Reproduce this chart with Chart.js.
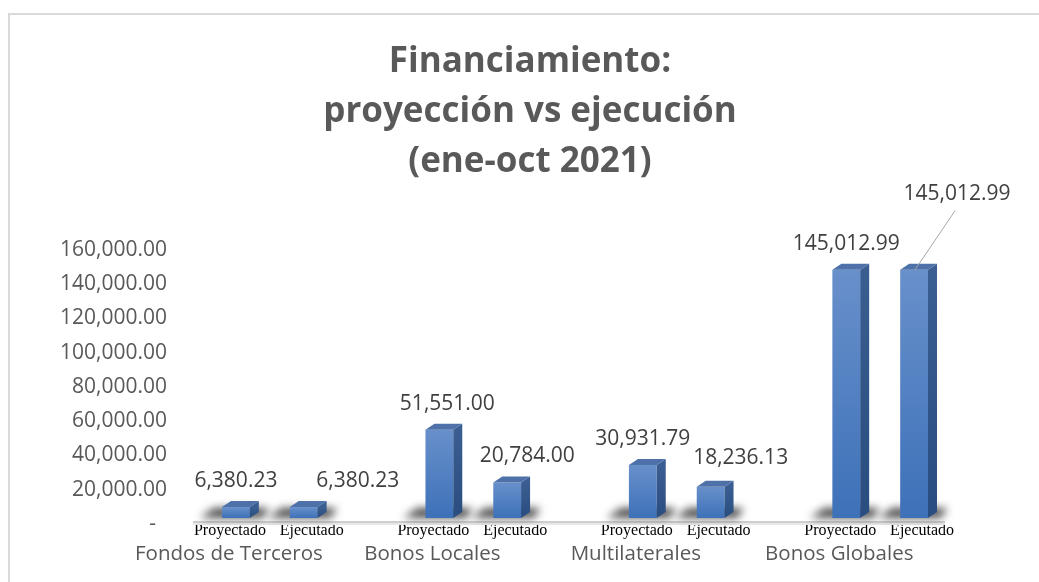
<!DOCTYPE html>
<html>
<head>
<meta charset="utf-8">
<script src="https://cdn.jsdelivr.net/npm/chart.js@4"></script>
<style>
  body { margin: 0; background: #fff; }
  #marco { position: absolute; left: 8px; top: 13px; width: 1200px; height: 800px;
           border-left: 2px solid #d9d9d9; border-top: 2px solid #d9d9d9; }
  #grafico { position: absolute; left: 0; top: 0; }
</style>
</head>
<body>
<div id="marco"></div>
<canvas id="grafico" width="1039" height="582"></canvas>
<script>
// datos del grafico
const categorias = ['Fondos de Terceros', 'Bonos Locales', 'Multilaterales', 'Bonos Globales'];
const series = ['Proyectado', 'Ejecutado'];
const proyectado = [6380.23, 51551.00, 30931.79, 145012.99];
const ejecutado = [6380.23, 20784.00, 18236.13, 145012.99];
const ticksY = [0, 20000, 40000, 60000, 80000, 100000, 120000, 140000, 160000];

// cada categoria ocupa 3 posiciones: Proyectado, Ejecutado y un hueco
const etiquetas = [];
const valores = [];
categorias.forEach((c, i) => {
    if (i > 0) { etiquetas.push(''); valores.push(null); }
    etiquetas.push(series[0]); valores.push(proyectado[i]);
    etiquetas.push(series[1]); valores.push(ejecutado[i]);
});

// desplazamiento de algunas etiquetas de datos (como las movio Excel)
const ajusteEtiquetas = {
    1: [54, 0], 4: [20, 0], 7: [30, -3], 10: [43, -50], 3: [8, 0]
};

function formato(v) {
    return v.toLocaleString('en-US', { minimumFractionDigits: 2, maximumFractionDigits: 2 });
}

const DX = 9, DY = 6;

const efecto3D = {
    id: 'efecto3D',
    beforeDatasetsDraw(chart) {
        const { ctx, chartArea } = chart;
        const meta = chart.getDatasetMeta(0);
        ctx.save();
        // piso
        ctx.fillStyle = '#cfcfcf';
        ctx.fillRect(chartArea.left - 9, chartArea.bottom + 3, 752, 2);
        ctx.fillStyle = '#e8e8e8';
        ctx.fillRect(chartArea.left - 9, chartArea.bottom + 5, 752, 2);
        // sombras
        ctx.filter = 'blur(4px)';
        ctx.fillStyle = 'rgba(30,30,30,0.8)';
        meta.data.forEach((bar, i) => {
            if (valores[i] == null) return;
            const izq = bar.x - bar.width / 2;
            const der = bar.x + bar.width / 2;
            ctx.beginPath();
            ctx.moveTo(izq - 22, bar.base);
            ctx.lineTo(izq - 8, bar.base - 10);
            ctx.lineTo(der + DX + 10, bar.base - 10);
            ctx.lineTo(der + DX + 4, bar.base);
            ctx.closePath();
            ctx.fill();
        });
        ctx.restore();
    },
    afterDatasetsDraw(chart) {
        const { ctx, scales } = chart;
        const meta = chart.getDatasetMeta(0);
        ctx.save();
        meta.data.forEach((bar, i) => {
            if (valores[i] == null) return;
            const izq = bar.x - bar.width / 2;
            const der = bar.x + bar.width / 2;
            // cara lateral
            const gl = ctx.createLinearGradient(0, bar.y, 0, bar.base);
            gl.addColorStop(0, '#3b5e92');
            gl.addColorStop(1, '#2a4d80');
            ctx.fillStyle = gl;
            ctx.beginPath();
            ctx.moveTo(der, bar.y);
            ctx.lineTo(der + DX, bar.y - DY);
            ctx.lineTo(der + DX, bar.base - DY);
            ctx.lineTo(der, bar.base);
            ctx.closePath();
            ctx.fill();
            // cara superior
            ctx.fillStyle = '#4d71a8';
            ctx.beginPath();
            ctx.moveTo(izq, bar.y);
            ctx.lineTo(izq + DX, bar.y - DY);
            ctx.lineTo(der + DX, bar.y - DY);
            ctx.lineTo(der, bar.y);
            ctx.closePath();
            ctx.fill();
        });

        // etiquetas de datos
        ctx.font = '21px "Open Sans"';
        ctx.fillStyle = '#404040';
        ctx.textAlign = 'center';
        ctx.textBaseline = 'middle';
        meta.data.forEach((bar, i) => {
            if (valores[i] == null) return;
            const aj = ajusteEtiquetas[i] || [0, 0];
            const lx = bar.x + aj[0];
            const ly = bar.y - 26 + aj[1];
            ctx.fillText(formato(valores[i]), lx, ly);
            if (aj[1] < -20) {
                ctx.strokeStyle = '#a6a6a6';
                ctx.lineWidth = 1;
                ctx.beginPath();
                ctx.moveTo(lx - 2, ly + 17);
                ctx.lineTo(bar.x + 1, bar.y);
                ctx.stroke();
            }
        });

        // nombres de categoria
        ctx.font = '20.5px "Open Sans"';
        ctx.fillStyle = '#595959';
        categorias.forEach((c, i) => {
            const x = scales.x.getPixelForValue(i * 3) - 7;
            ctx.fillText(c, x, 554);
        });
        ctx.restore();
    }
};

new Chart(document.getElementById('grafico'), {
    type: 'bar',
    data: {
        labels: etiquetas,
        datasets: [{
            label: 'Financiamiento',
            data: valores,
            backgroundColor: function (context) {
                const chart = context.chart;
                if (context.raw == null || !chart.scales.y) return '#4a7fc4';
                const top = chart.scales.y.getPixelForValue(context.raw);
                const base = chart.scales.y.getPixelForValue(0);
                if (!isFinite(top) || !isFinite(base) || top === base) return '#4a7fc4';
                const g = chart.ctx.createLinearGradient(0, top, 0, base);
                g.addColorStop(0, '#6890cb');
                g.addColorStop(1, '#3d71b8');
                return g;
            },
            borderWidth: 0,
            barPercentage: 0.41,
            categoryPercentage: 1
        }]
    },
    options: {
        responsive: false,
        animation: false,
        // padding derecho negativo para centrar el titulo como en el original
        layout: { padding: { left: 0, right: -21, top: 0, bottom: 0 } },
        plugins: {
            legend: { display: false },
            tooltip: { enabled: false },
            title: {
                display: true,
                text: ['Financiamiento:', 'proyección vs ejecución', '(ene-oct 2021)'],
                color: '#595959',
                font: { family: '"Open Sans"', size: 35, weight: 'bold', lineHeight: 50 / 35 },
                padding: { top: 37, bottom: 57 }
            }
        },
        scales: {
            x: {
                grid: { display: false, drawTicks: false },
                border: { display: false },
                ticks: {
                    autoSkip: false,
                    maxRotation: 0,
                    padding: 3,
                    color: '#000000',
                    font: { family: '"Liberation Serif"', size: 16 },
                    callback: function (v, i) {
                        const t = this.getLabelForValue(v);
                        if (t === series[0]) return t + '   ';
                        if (t === series[1]) return '    ' + t;
                        return t;
                    }
                },
                afterFit(scale) { scale.height = 64; }
            },
            y: {
                min: 0,
                max: 160000,
                grid: { display: false, drawTicks: false },
                border: { display: false },
                afterBuildTicks(scale) { scale.ticks = ticksY.map(v => ({ value: v })); },
                ticks: {
                    padding: 35,
                    labelOffset: 6,
                    color: '#595959',
                    font: { family: '"Open Sans"', size: 21 },
                    callback: v => v === 0 ? '-  ' : formato(v)
                },
                afterFit(scale) { scale.width = 202; }
            },
            // eje vacio a la derecha, solo reserva espacio
            margen: {
                type: 'linear',
                position: 'right',
                grid: { display: false, drawTicks: false },
                border: { display: false },
                ticks: { display: false },
                afterFit(scale) { scale.width = 112; }
            }
        }
    },
    plugins: [efecto3D]
});
</script>
</body>
</html>
